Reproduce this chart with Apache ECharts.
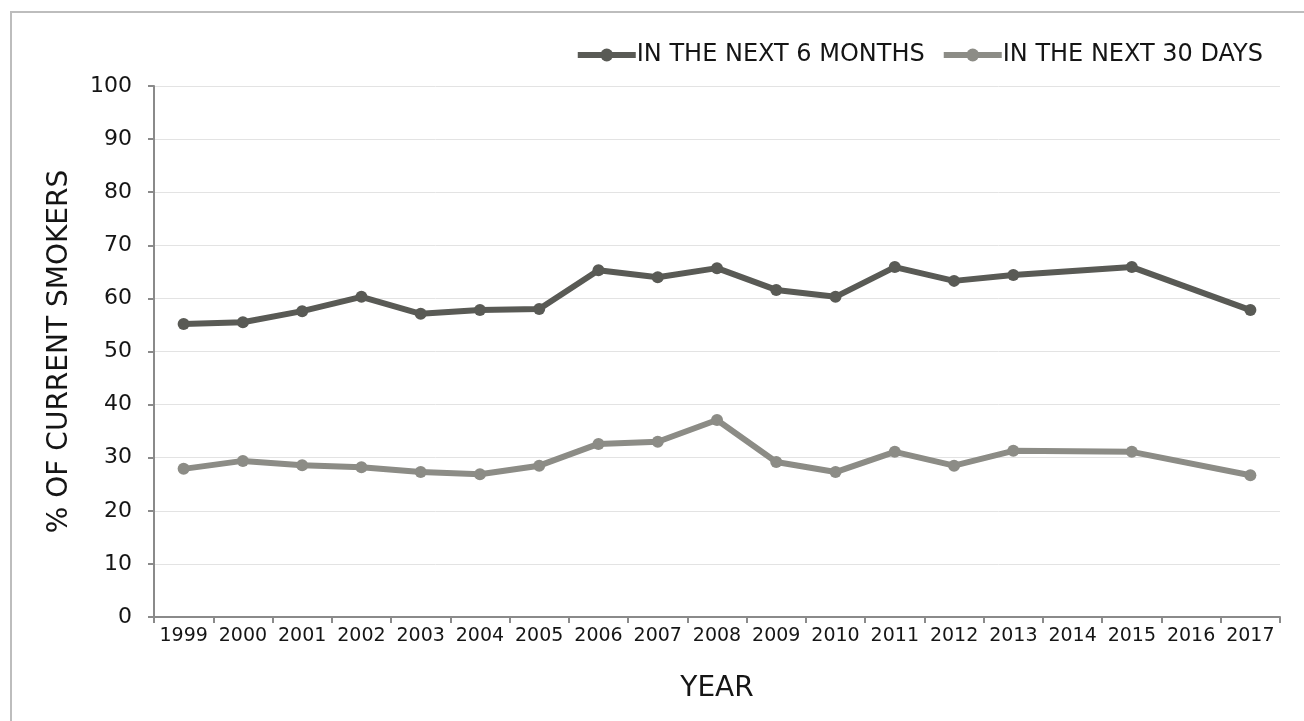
<!DOCTYPE html>
<html>
<head>
<meta charset="utf-8">
<script src="https://cdn.jsdelivr.net/npm/echarts@6/dist/echarts.min.js"></script>
<style>
	html, body { margin: 0; padding: 0; background: #fff; }
	#chart { width: 1304px; height: 721px; }
	#frame {
		position: absolute; left: 10px; top: 11px; right: 0; bottom: 0;
		border-left: 2px solid #bdbdbd; border-top: 2px solid #bdbdbd;
		pointer-events: none;
	}
</style>
</head>
<body>
<div id="chart"></div>
<div id="frame"></div>
<script>
const years = ["1999", "2000", "2001", "2002", "2003", "2004", "2005", "2006", "2007", "2008",
	"2009", "2010", "2011", "2012", "2013", "2014", "2015", "2016", "2017"];
// 2014 and 2016 have no survey value
const next6Months = [55.2, 55.5, 57.6, 60.3, 57.1, 57.8, 58.0, 65.3, 64.0, 65.7,
	61.6, 60.3, 65.9, 63.3, 64.4, null, 65.9, null, 57.8];
const next30Days = [27.9, 29.4, 28.6, 28.2, 27.3, 26.9, 28.5, 32.6, 33.0, 37.1,
	29.2, 27.3, 31.1, 28.5, 31.3, null, 31.1, null, 26.7];

const fontFamily = "'DejaVu Sans', sans-serif";
const textColour = "#151515";
const axisColour = "#8a8a8a";

function lineSeries(name, data, colour) {
	return {
		name: name,
		type: "line",
		data: data,
		connectNulls: true,
		symbol: "circle",
		symbolSize: 12,
		lineStyle: { width: 6, color: colour },
		itemStyle: { color: colour },
	};
}

const chart = echarts.init(document.getElementById("chart"));
chart.setOption({
	animation: false,
	textStyle: { fontFamily: fontFamily },
	legend: {
		top: 38,
		right: 36,
		itemWidth: 58,
		itemHeight: 16,
		itemGap: 16,
		lineStyle: { width: 6 },
		textStyle: { fontSize: 24, color: textColour, fontFamily: fontFamily, padding: [0, 0, 0, -4] },
		data: ["IN THE NEXT 6 MONTHS", "IN THE NEXT 30 DAYS"],
	},
	grid: { left: 154, right: 24, top: 86, bottom: 104 },
	xAxis: {
		type: "category",
		data: years,
		boundaryGap: true,
		name: "YEAR",
		nameLocation: "middle",
		nameGap: 58,
		nameTextStyle: { fontSize: 28, color: textColour, fontFamily: fontFamily },
		axisLine: { lineStyle: { color: axisColour, width: 2 } },
		axisTick: { show: true, length: 6, lineStyle: { color: axisColour, width: 2 } },
		axisLabel: { interval: 0, fontSize: 19, color: textColour, margin: 10, fontFamily: fontFamily },
	},
	yAxis: {
		type: "value",
		min: 0,
		max: 100,
		interval: 10,
		name: "% OF CURRENT SMOKERS",
		nameLocation: "middle",
		nameGap: 80,
		nameTextStyle: { fontSize: 28, color: textColour, fontFamily: fontFamily },
		axisLine: { show: true, lineStyle: { color: axisColour, width: 2 } },
		axisTick: { show: true, length: 6, lineStyle: { color: axisColour, width: 2 } },
		axisLabel: { fontSize: 22, color: textColour, margin: 22, fontFamily: fontFamily },
		splitLine: { lineStyle: { color: "#e3e3e3", width: 1 } },
	},
	series: [
		lineSeries("IN THE NEXT 6 MONTHS", next6Months, "#595a55"),
		lineSeries("IN THE NEXT 30 DAYS", next30Days, "#8c8c86"),
	],
});
</script>
</body>
</html>
